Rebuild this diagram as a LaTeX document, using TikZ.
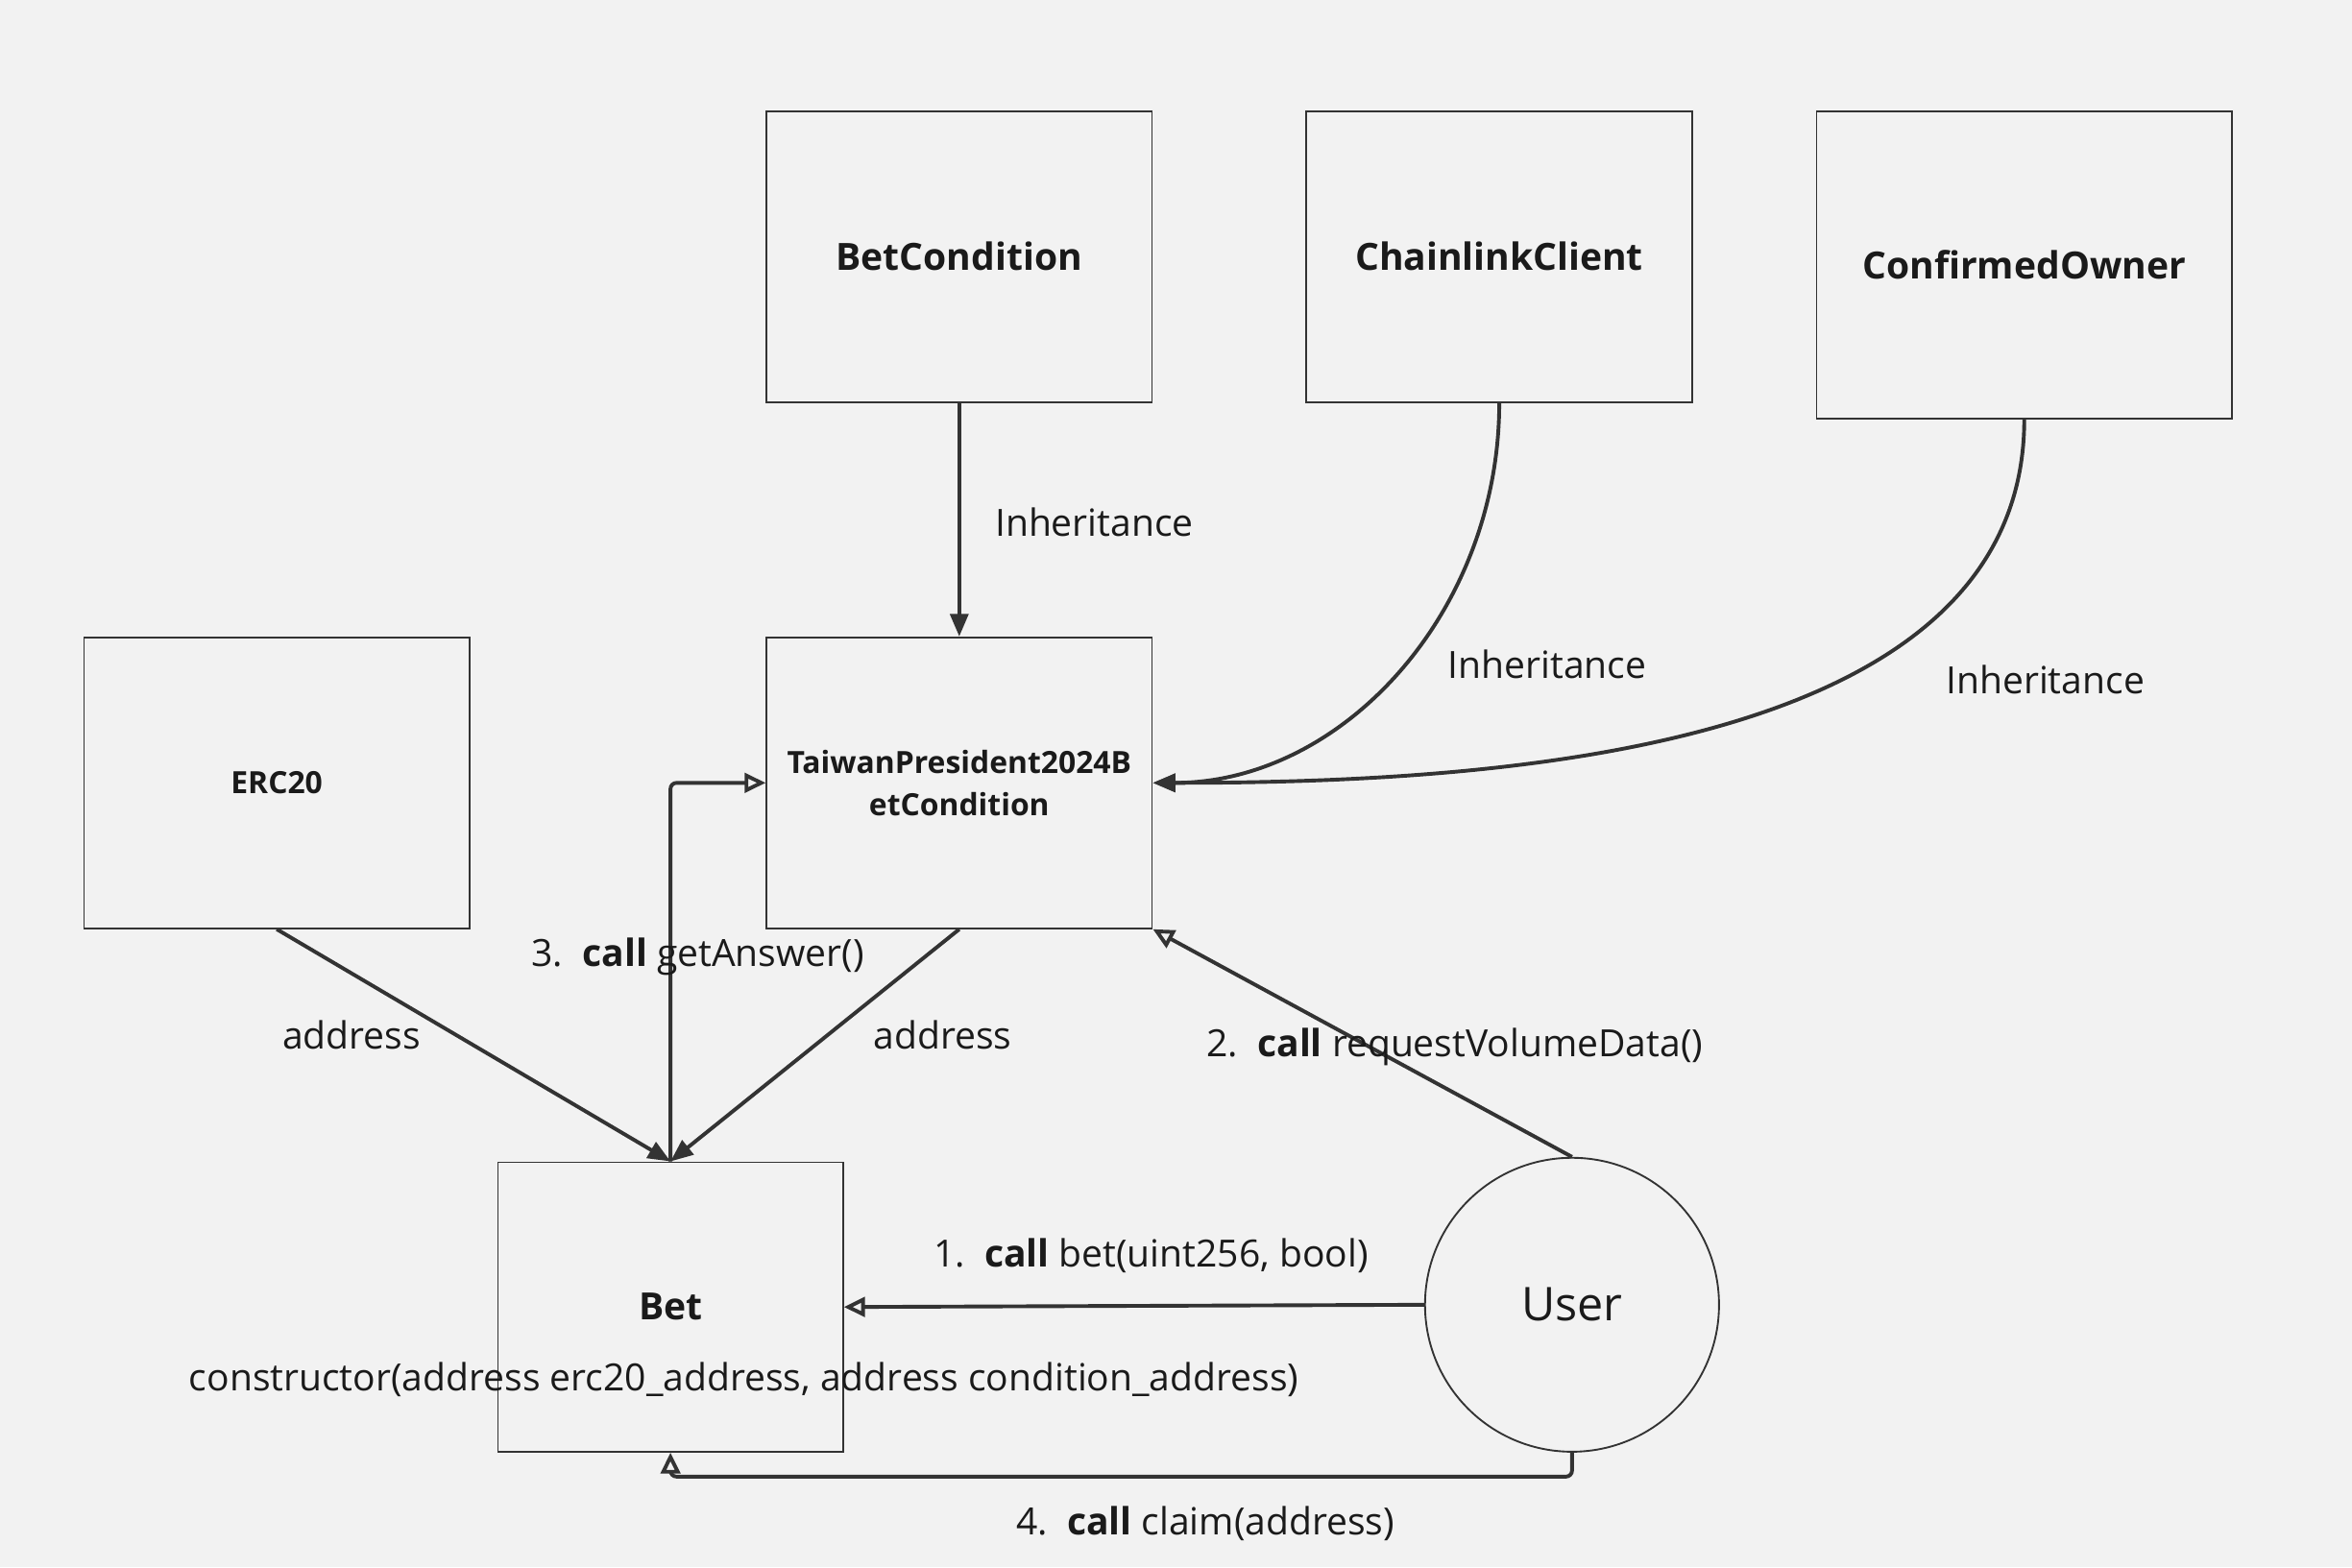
\documentclass[tikz,border=0pt]{standalone}
\usepackage{fontspec}
\setmainfont{Open Sans}
\usetikzlibrary{arrows.meta}
\definecolor{bgcolor}{HTML}{F2F2F2}
\definecolor{linecolor}{HTML}{333333}
\definecolor{textcolor}{HTML}{1A1A1A}

\begin{document}
\begin{tikzpicture}[x=0.5pt, y=-0.5pt,
  boxstyle/.style={draw=linecolor, line width=0.6pt, fill=bgcolor, inner sep=0pt, text=textcolor, font=\bfseries\fontsize{12.5}{15}\selectfont},
  smallbox/.style={boxstyle, font=\bfseries\fontsize{10.2}{14}\selectfont, align=center},
  linkstyle/.style={draw=linecolor, line width=1.25pt, -{Triangle[length=7.5pt, width=6pt]}},
  callstyle/.style={draw=linecolor, line width=1.25pt, -{Triangle[open, length=7pt, width=6.5pt]}, rounded corners=2pt},
  labelstyle/.style={text=textcolor, font=\fontsize{12.5}{15}\selectfont, inner sep=0pt}]

  \fill[bgcolor] (0,0) rectangle (1568,1045);

  % contracts
  \node[boxstyle, minimum width=128.5pt, minimum height=97pt] (betcond) at (639.5,171) {BetCondition};
  \node[boxstyle, minimum width=128.5pt, minimum height=97pt] (chainlink) at (999.5,171) {ChainlinkClient};
  \node[boxstyle, minimum width=138.5pt, minimum height=102.5pt] (owner) at (1349.5,176.5) {ConfirmedOwner};
  \node[smallbox, minimum width=128.5pt, minimum height=97pt] (erc) at (184.5,522) {ERC20};
  \node[smallbox, minimum width=128.5pt, minimum height=97pt] (taiwan) at (639.5,522) {TaiwanPresident2024B\\etCondition};
  \node[boxstyle, minimum width=115pt, minimum height=96.5pt] (bet) at (447,871.5) {Bet};
  \node[labelstyle] (ctor) at (496,920) {constructor(address erc20\_address, address condition\_address)};
  \node[circle, draw=linecolor, line width=0.6pt, fill=bgcolor, minimum size=98pt, inner sep=0pt, text=textcolor, font=\fontsize{15.5}{18}\selectfont] (user) at (1048,870) {User};

  % inheritance and addresses
  \draw[linkstyle] (betcond.south) -- (taiwan.north);
  \draw[linkstyle] (chainlink.south) .. controls +(0,139) and +(127,0) .. (taiwan.east);
  \draw[linkstyle] (owner.south) .. controls +(0,221) and +(232,0) .. (taiwan.east);
  \draw[linkstyle] (erc.south) -- (bet.north);
  \draw[linkstyle] (taiwan.south) -- (bet.north);

  % calls
  \draw[callstyle] (user.west) -- (bet.east);
  \draw[callstyle] (user.north) -- (taiwan.south east);
  \draw[callstyle] (bet.north) -- (bet.north |- taiwan.west) -- (taiwan.west);
  \draw[callstyle] (user.south) -- ++(0,16) -| (bet.south);

  % labels
  \node[labelstyle, anchor=west] (inh1) at (663,348) {Inheritance};
  \node[labelstyle, anchor=west] (inh2) at (965,443) {Inheritance};
  \node[labelstyle, anchor=west] (inh3) at (1297,453) {Inheritance};
  \node[labelstyle, anchor=west] (addr1) at (188,690) {address};
  \node[labelstyle, anchor=west] (addr2) at (582,690) {address};
  \node[labelstyle, anchor=west] (call1) at (622,837) {1.\ \ \textbf{call} bet(uint256, bool)};
  \node[labelstyle, anchor=west] (call2) at (804,698) {2.\ \ \textbf{call} requestVolumeData()};
  \node[labelstyle, anchor=west] (call3) at (354,638) {3.\ \ \textbf{call} getAnswer()};
  \node[labelstyle, anchor=west] (call4) at (677,1016) {4.\ \ \textbf{call} claim(address)};
\end{tikzpicture}
\end{document}
